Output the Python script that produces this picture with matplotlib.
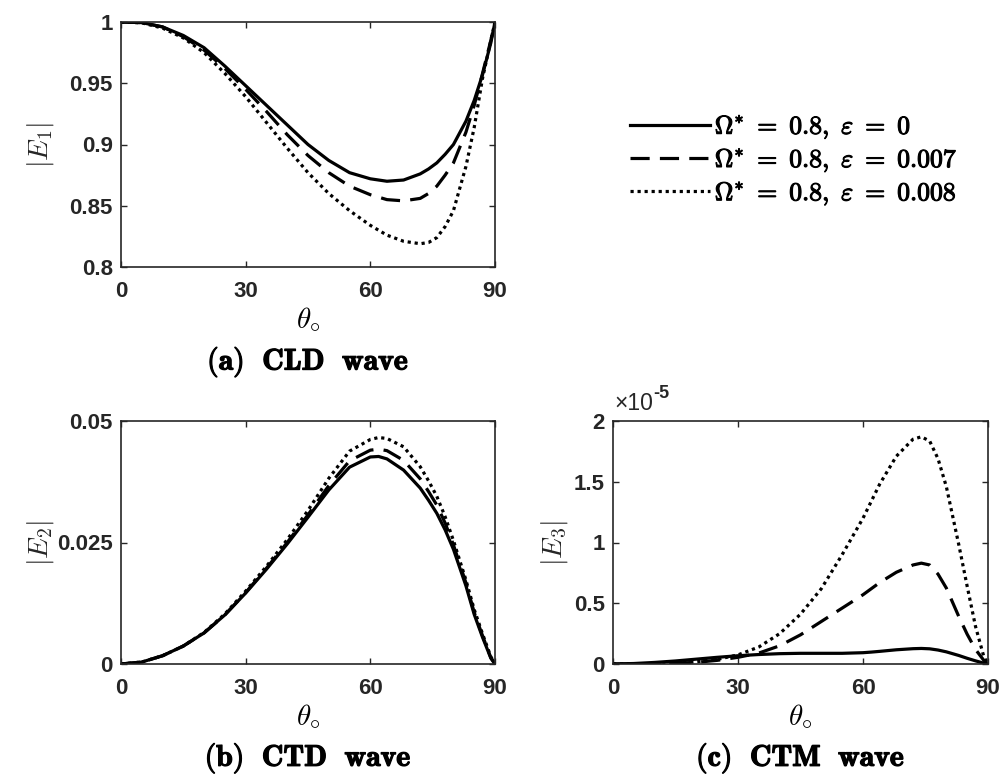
import numpy as np
import matplotlib
matplotlib.use("Agg")
import matplotlib.pyplot as plt
import matplotlib.patheffects as pe
from matplotlib.ticker import FuncFormatter, FixedLocator

plt.rcParams['mathtext.fontset'] = 'cm'
plt.rcParams['font.family'] = ['Liberation Sans', 'DejaVu Sans']

# ---------------- data ----------------
theta = [0, 5, 10, 15, 20, 25, 30, 35, 40, 45, 50, 55, 60, 62, 64, 68, 72, 74, 76, 78, 80, 83, 85, 87, 89, 90]

E1_eps0 = [1.000, 0.9995, 0.996, 0.989, 0.979, 0.964, 0.948, 0.932, 0.916, 0.900, 0.887, 0.877, 0.872,
           0.871, 0.870, 0.871, 0.876, 0.880, 0.885, 0.892, 0.900, 0.919, 0.936, 0.957, 0.983, 1.000]
E1_eps007 = [1.000, 0.9995, 0.996, 0.988, 0.977, 0.962, 0.945, 0.927, 0.908, 0.891, 0.877, 0.866, 0.859,
             0.857, 0.855, 0.854, 0.856, 0.860, 0.866, 0.875, 0.885, 0.910, 0.932, 0.958, 0.985, 1.000]
E1_eps008 = [1.000, 0.9993, 0.995, 0.987, 0.975, 0.958, 0.939, 0.918, 0.897, 0.877, 0.860, 0.846, 0.834,
             0.830, 0.826, 0.821, 0.819, 0.820, 0.824, 0.833, 0.846, 0.882, 0.914, 0.954, 0.985, 1.000]

E2_eps0 = [0.0, 0.0004, 0.0017, 0.0037, 0.0064, 0.0101, 0.0146, 0.0195, 0.0247, 0.0302, 0.0358, 0.0405,
           0.0426, 0.0427, 0.0422, 0.0399, 0.0362, 0.0337, 0.0310, 0.0276, 0.0236, 0.0161, 0.0102, 0.0055,
           0.0012, 0.0]
E2_eps007 = [0.0, 0.0004, 0.0017, 0.0037, 0.0064, 0.0101, 0.0147, 0.0197, 0.0250, 0.0307, 0.0367, 0.0418,
             0.0440, 0.0442, 0.0439, 0.0419, 0.0381, 0.0355, 0.0327, 0.0290, 0.0245, 0.0167, 0.0106, 0.0058,
             0.0013, 0.0]
E2_eps008 = [0.0, 0.0004, 0.0017, 0.0037, 0.0065, 0.0103, 0.0150, 0.0201, 0.0256, 0.0316, 0.0382, 0.0438,
             0.0462, 0.0466, 0.0464, 0.0447, 0.0406, 0.0377, 0.0345, 0.0303, 0.0254, 0.0173, 0.0112, 0.0062,
             0.0015, 0.0]

E3_eps0 = [0.0, 0.004e-5, 0.013e-5, 0.025e-5, 0.040e-5, 0.055e-5, 0.068e-5, 0.078e-5, 0.085e-5, 0.088e-5,
           0.088e-5, 0.088e-5, 0.093e-5, 0.098e-5, 0.104e-5, 0.117e-5, 0.126e-5, 0.128e-5, 0.125e-5,
           0.115e-5, 0.100e-5, 0.070e-5, 0.047e-5, 0.026e-5, 0.007e-5, 0.0]
E3_eps007 = [0.0, 0.0003e-5, 0.002e-5, 0.006e-5, 0.014e-5, 0.030e-5, 0.055e-5, 0.090e-5, 0.150e-5, 0.240e-5,
             0.350e-5, 0.460e-5, 0.570e-5, 0.620e-5, 0.670e-5, 0.755e-5, 0.815e-5, 0.830e-5, 0.815e-5,
             0.740e-5, 0.625e-5, 0.390e-5, 0.245e-5, 0.120e-5, 0.030e-5, 0.0]
E3_eps008 = [0.0, 0.0005e-5, 0.002e-5, 0.007e-5, 0.018e-5, 0.038e-5, 0.075e-5, 0.140e-5, 0.250e-5, 0.410e-5,
             0.620e-5, 0.900e-5, 1.200e-5, 1.340e-5, 1.480e-5, 1.710e-5, 1.850e-5, 1.870e-5, 1.835e-5,
             1.690e-5, 1.460e-5, 0.980e-5, 0.640e-5, 0.310e-5, 0.060e-5, 0.0]

legend_labels = [r'$\mathbf{\Omega^{*}\ =\ 0.8},\ \mathbf{\varepsilon\ =\ 0}$',
                 r'$\mathbf{\Omega^{*}\ =\ 0.8},\ \mathbf{\varepsilon\ =\ 0.007}$',
                 r'$\mathbf{\Omega^{*}\ =\ 0.8},\ \mathbf{\varepsilon\ =\ 0.008}$']
xticks = [0, 30, 60, 90]
yticks_a = [0.8, 0.85, 0.9, 0.95, 1.0]
yticks_b = [0, 0.025, 0.05]
yticks_c = [0, 0.5e-5, 1e-5, 1.5e-5, 2e-5]
titles = [r'$\mathbf{(a)\ \ CLD\ \ wave}$', r'$\mathbf{(b)\ \ CTD\ \ wave}$', r'$\mathbf{(c)\ \ CTM\ \ wave}$']
ylabels = [r'$|E_1|$', r'$|E_2|$', r'$|E_3|$']

# ---------------- figure ----------------
W, H = 1002, 774
fig = plt.figure(figsize=(W / 100, H / 100), dpi=100)

def px_axes(x0, y0, x1, y1):
    return fig.add_axes([x0 / W, 1 - y1 / H, (x1 - x0) / W, (y1 - y0) / H])

ax1 = px_axes(121, 22, 495, 267)
ax2 = px_axes(121, 421, 495, 664)
ax3 = px_axes(613, 421, 988, 664)

dark = '#262626'
lw = 2.3
styles = [dict(ls='-'), dict(ls=(0, (6.0, 3.2))), dict(ls=(0, (1.0, 1.2)))]
bold_fx = [pe.withStroke(linewidth=0.9, foreground='black')]

series = [(E1_eps0, E1_eps007, E1_eps008), (E2_eps0, E2_eps007, E2_eps008), (E3_eps0, E3_eps007, E3_eps008)]
lines = []
for ax, ser in zip((ax1, ax2, ax3), series):
    for k, (y, st) in enumerate(zip(ser, styles)):
        ln, = ax.plot(theta, y, color='black', lw=lw, **st)
        if ax is ax1:
            lines.append(ln)

def fmt_plain(v, p):
    return f'{v:g}'

for ax, yt, lab, ttl, lx in zip((ax1, ax2, ax3), (yticks_a, yticks_b, yticks_c), ylabels, titles,
                                (-0.215, -0.215, -0.155)):
    ax.set_xlim(0, 90)
    ax.set_ylim(yt[0], yt[-1])
    ax.xaxis.set_major_locator(FixedLocator(xticks))
    ax.yaxis.set_major_locator(FixedLocator(yt))
    ax.xaxis.set_major_formatter(FuncFormatter(fmt_plain))
    if ax is ax3:
        ax.yaxis.set_major_formatter(FuncFormatter(lambda v, p: f'{v / 1e-5:g}'))
    else:
        ax.yaxis.set_major_formatter(FuncFormatter(fmt_plain))
    ax.tick_params(direction='in', length=4, width=1.0, colors=dark, top=True, right=True,
                   labelsize=16)
    ax.tick_params(axis='x', pad=10)
    ax.tick_params(axis='y', pad=6)
    for lbl in ax.get_xticklabels() + ax.get_yticklabels():
        lbl.set_fontweight('bold')
    for s in ax.spines.values():
        s.set_color(dark)
        s.set_linewidth(1.2)
    ax.set_xlabel(r'$\theta_{\circ}$', fontsize=21, labelpad=2, color='black')
    ax.text(lx, 0.5, lab, transform=ax.transAxes, rotation=90, ha='center', va='center',
            fontsize=20, color=dark)
    ax.text(0.5, -0.388, ttl, transform=ax.transAxes, ha='center', va='center', fontsize=21.5,
            color='black', path_effects=bold_fx)

# exponent label for panel (c)
t1 = ax3.text(0.005, 1.045, '×10', transform=ax3.transAxes, ha='left', va='baseline', fontsize=16.5,
              color=dark)
ax3.annotate('-5', xy=(1.0, 0.55), xycoords=t1, ha='left', va='bottom', fontsize=13, color=dark,
             fontweight='bold')

leg = fig.legend(lines, legend_labels, loc='center left', bbox_to_anchor=(630 / W, 1 - 160 / H),
                 frameon=False, fontsize=18.5, handlelength=3.1, handletextpad=0.2, labelspacing=0.22,
                 borderpad=0, borderaxespad=0)
for t in leg.get_texts():
    t.set_path_effects([pe.withStroke(linewidth=0.8, foreground='black')])

fig.savefig('out.png', dpi=100)
